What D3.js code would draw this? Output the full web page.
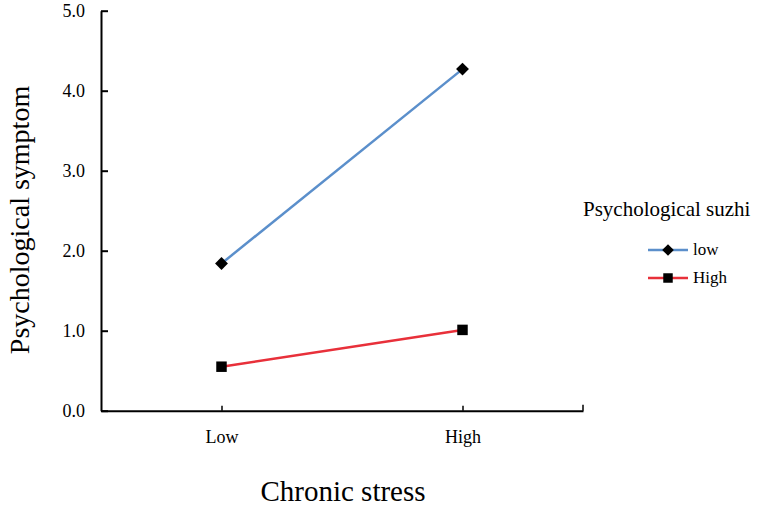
<!DOCTYPE html>
<html><head><meta charset="utf-8">
<script src="https://cdn.jsdelivr.net/npm/d3@7"></script>
<style>body{margin:0;background:#fff}svg{display:block}text{font-family:"Liberation Serif","Times New Roman",serif !important;fill:#000}</style>
</head><body><svg id="c" width="762" height="507"></svg>
<script>
const categories = ["Low", "High"];
const seriesNames = ["low", "High"];
const lowSuzhi = [1.84, 4.27];
const highSuzhi = [0.55, 1.01];
const yTicks = [0, 1, 2, 3, 4, 5];
const seriesColors = ["#5b8fcb", "#e8303a"];

const svg = d3.select("#c");
const x = d3.scalePoint().domain(categories).range([101, 583]).padding(0.5);
const y = d3.scaleLinear().domain([0, 5]).range([410.7, 10.7]);

// axes
const yAxis = svg.append("g").attr("transform","translate(101,0)")
  .call(d3.axisLeft(y).tickValues(yTicks).tickFormat(d3.format(".1f")).tickSizeInner(-7).tickSizeOuter(0).tickPadding(16))
  .attr("font-family","Liberation Serif").attr("font-size",18);
yAxis.select(".domain").attr("stroke","#000").attr("stroke-width",2);
yAxis.selectAll(".tick line").attr("stroke","#000").attr("stroke-width",2);

const xAxis = svg.append("g").attr("transform","translate(0,410.7)")
  .call(d3.axisBottom(x).tickSizeInner(-5).tickSizeOuter(0).tickPadding(20))
  .attr("font-family","Liberation Serif").attr("font-size",18);
xAxis.select(".domain").attr("stroke","#000").attr("stroke-width",2);
xAxis.selectAll(".tick line").attr("stroke","#000").attr("stroke-width",1.5);
xAxis.append("line").attr("x1",583).attr("x2",583).attr("y1",0).attr("y2",-6).attr("stroke","#000").attr("stroke-width",1.5);

// titles
svg.append("text").attr("x",343).attr("y",501).attr("text-anchor","middle").attr("font-size",29).text("Chronic stress");
svg.append("text").attr("transform","translate(29,220) rotate(-90)").attr("text-anchor","middle").attr("font-size",28).text("Psychological symptom");

// markers: diamond = square rotated 45deg
function marker(sel, si, s){
  if(si===0){
    sel.attr("d", d3.symbol().type(d3.symbolSquare).size(s*0.75)).attr("data-rot",45);
  } else {
    sel.attr("d", d3.symbol().type(d3.symbolSquare).size(s)).attr("data-rot",0);
  }
}

const series = [lowSuzhi, highSuzhi];
const line = d3.line().x((d,i)=>x(categories[i])).y(d=>y(d));
series.forEach((vals, si) => {
  svg.append("path").datum(vals).attr("d", line).attr("fill","none")
    .attr("stroke", seriesColors[si]).attr("stroke-width", 2.5);
  svg.selectAll(null).data(vals).enter().append("path")
    .call(marker, si, 110)
    .attr("transform",(d,i)=>`translate(${x(categories[i])},${y(d)}) rotate(${si===0?45:0})`)
    .attr("fill","#000");
});

// legend
svg.append("text").attr("x",583).attr("y",216).attr("font-size",21).text("Psychological suzhi");
seriesNames.forEach((n, si) => {
  const ly = 250 + si*28;
  svg.append("line").attr("x1",648).attr("x2",688).attr("y1",ly).attr("y2",ly)
    .attr("stroke",seriesColors[si]).attr("stroke-width",2.5);
  svg.append("path").call(marker, si, 90)
    .attr("transform",`translate(668,${ly}) rotate(${si===0?45:0})`).attr("fill","#000");
  svg.append("text").attr("x",693).attr("y",ly+5).attr("font-size",17).text(n);
});
</script></body></html>
